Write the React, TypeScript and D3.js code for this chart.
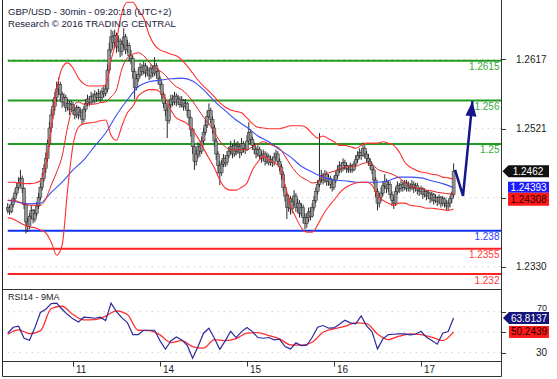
import React from 'react';
import * as d3 from 'd3';

const W = 557;
const H = 379;

const titleLines = ['GBP/USD - 30min - 09:20:18 (UTC+2)', 'Research \u00A9 2016 TRADING CENTRAL'];
const rsiTitle = 'RSI14 - 9MA';

const dayLabels = ['11', '14', '15', '16', '17'];
const dayStartBar = [36, 84, 132, 180, 228];

const firstOpen = 1.2408;
const closes = [
  1.2412,1.2406,1.2416,1.2424,1.2432,1.2440,1.2446,1.2452,1.2438,1.2416,
  1.2392,1.2386,1.2400,1.2408,1.2396,1.2404,1.2414,1.2426,1.2440,1.2452,
  1.2466,1.2480,1.2500,1.2522,1.2540,1.2552,1.2564,1.2576,1.2582,1.2568,
  1.2558,1.2564,1.2550,1.2556,1.2548,1.2554,1.2546,1.2540,1.2550,1.2540,
  1.2544,1.2534,1.2548,1.2556,1.2562,1.2558,1.2566,1.2560,1.2568,1.2564,
  1.2570,1.2564,1.2572,1.2570,1.2576,1.2602,1.2630,1.2648,1.2640,1.2650,
  1.2634,1.2642,1.2628,1.2638,1.2648,1.2630,1.2636,1.2622,1.2618,1.2600,
  1.2578,1.2590,1.2596,1.2606,1.2600,1.2608,1.2598,1.2602,1.2594,1.2604,
  1.2598,1.2608,1.2600,1.2590,1.2582,1.2568,1.2556,1.2546,1.2532,1.2554,
  1.2562,1.2558,1.2566,1.2558,1.2562,1.2554,1.2560,1.2552,1.2556,1.2546,
  1.2536,1.2520,1.2496,1.2476,1.2486,1.2496,1.2490,1.2504,1.2516,1.2526,
  1.2538,1.2546,1.2534,1.2522,1.2504,1.2486,1.2470,1.2460,1.2472,1.2480,
  1.2474,1.2484,1.2490,1.2496,1.2486,1.2498,1.2490,1.2496,1.2488,1.2500,
  1.2494,1.2492,1.2504,1.2516,1.2506,1.2498,1.2492,1.2486,1.2492,1.2484,
  1.2480,1.2486,1.2476,1.2482,1.2474,1.2478,1.2474,1.2482,1.2486,1.2476,
  1.2468,1.2458,1.2440,1.2428,1.2412,1.2424,1.2410,1.2420,1.2428,1.2412,
  1.2418,1.2404,1.2412,1.2398,1.2390,1.2398,1.2406,1.2400,1.2412,1.2422,
  1.2434,1.2444,1.2450,1.2456,1.2450,1.2458,1.2448,1.2452,1.2444,1.2440,
  1.2450,1.2456,1.2464,1.2470,1.2466,1.2474,1.2470,1.2466,1.2464,1.2470,
  1.2464,1.2472,1.2478,1.2484,1.2488,1.2484,1.2494,1.2486,1.2480,1.2476,
  1.2470,1.2464,1.2450,1.2434,1.2418,1.2426,1.2432,1.2442,1.2448,1.2438,
  1.2444,1.2430,1.2422,1.2418,1.2434,1.2442,1.2438,1.2444,1.2440,1.2446,
  1.2438,1.2442,1.2440,1.2444,1.2438,1.2442,1.2436,1.2434,1.2438,1.2430,
  1.2434,1.2428,1.2432,1.2424,1.2430,1.2422,1.2426,1.2420,1.2426,1.2418,
  1.2424,1.2418,1.2414,1.2418,1.2424,1.2430,1.2462,
];
const highs = [
  1.2418,1.2415,1.2420,1.2428,1.2438,1.2446,1.2454,1.2464,1.2456,1.2440,
  1.2418,1.2398,1.2404,1.2414,1.2410,1.2410,1.2420,1.2432,1.2446,1.2460,
  1.2472,1.2488,1.2506,1.2530,1.2548,1.2562,1.2572,1.2586,1.2592,1.2586,
  1.2572,1.2570,1.2568,1.2562,1.2560,1.2560,1.2558,1.2550,1.2554,1.2552,
  1.2550,1.2548,1.2552,1.2562,1.2568,1.2566,1.2572,1.2570,1.2574,1.2572,
  1.2576,1.2574,1.2578,1.2580,1.2582,1.2610,1.2640,1.2658,1.2656,1.2658,
  1.2654,1.2650,1.2646,1.2644,1.2660,1.2652,1.2644,1.2640,1.2630,1.2622,
  1.2604,1.2596,1.2604,1.2612,1.2610,1.2614,1.2612,1.2608,1.2606,1.2610,
  1.2608,1.2620,1.2612,1.2604,1.2594,1.2586,1.2572,1.2560,1.2550,1.2560,
  1.2568,1.2568,1.2572,1.2570,1.2568,1.2566,1.2566,1.2562,1.2562,1.2558,
  1.2548,1.2538,1.2522,1.2498,1.2492,1.2502,1.2500,1.2510,1.2522,1.2534,
  1.2546,1.2556,1.2550,1.2538,1.2526,1.2508,1.2490,1.2476,1.2478,1.2486,
  1.2484,1.2490,1.2496,1.2504,1.2500,1.2506,1.2502,1.2504,1.2500,1.2508,
  1.2504,1.2500,1.2512,1.2530,1.2520,1.2510,1.2502,1.2496,1.2498,1.2496,
  1.2490,1.2492,1.2490,1.2488,1.2486,1.2484,1.2482,1.2488,1.2492,1.2490,
  1.2480,1.2472,1.2462,1.2444,1.2432,1.2430,1.2428,1.2426,1.2436,1.2432,
  1.2424,1.2422,1.2418,1.2416,1.2404,1.2404,1.2412,1.2412,1.2418,1.2428,
  1.2440,1.2450,1.2515,1.2464,1.2460,1.2464,1.2462,1.2458,1.2456,1.2450,
  1.2456,1.2462,1.2470,1.2476,1.2474,1.2480,1.2478,1.2474,1.2470,1.2474,
  1.2472,1.2476,1.2484,1.2490,1.2494,1.2492,1.2502,1.2498,1.2490,1.2486,
  1.2480,1.2474,1.2468,1.2454,1.2438,1.2432,1.2440,1.2448,1.2458,1.2452,
  1.2450,1.2448,1.2434,1.2428,1.2440,1.2448,1.2446,1.2450,1.2448,1.2450,
  1.2450,1.2448,1.2446,1.2450,1.2448,1.2446,1.2446,1.2440,1.2442,1.2440,
  1.2438,1.2436,1.2436,1.2434,1.2434,1.2432,1.2430,1.2428,1.2430,1.2428,
  1.2428,1.2426,1.2422,1.2422,1.2428,1.2434,1.2473,
];
const lows = [
  1.2404,1.2402,1.2404,1.2412,1.2420,1.2428,1.2436,1.2442,1.2432,1.2410,
  1.2376,1.2378,1.2382,1.2396,1.2390,1.2392,1.2400,1.2410,1.2422,1.2436,
  1.2448,1.2460,1.2476,1.2496,1.2516,1.2534,1.2546,1.2558,1.2568,1.2560,
  1.2550,1.2552,1.2544,1.2546,1.2540,1.2544,1.2540,1.2534,1.2536,1.2534,
  1.2536,1.2526,1.2530,1.2544,1.2552,1.2552,1.2554,1.2556,1.2556,1.2558,
  1.2560,1.2558,1.2560,1.2564,1.2566,1.2572,1.2598,1.2626,1.2632,1.2634,
  1.2626,1.2628,1.2620,1.2622,1.2632,1.2624,1.2626,1.2614,1.2610,1.2590,
  1.2562,1.2574,1.2586,1.2592,1.2594,1.2596,1.2592,1.2594,1.2588,1.2590,
  1.2592,1.2594,1.2592,1.2582,1.2576,1.2562,1.2550,1.2538,1.2508,1.2528,
  1.2550,1.2552,1.2554,1.2552,1.2554,1.2550,1.2550,1.2546,1.2548,1.2538,
  1.2526,1.2510,1.2486,1.2464,1.2470,1.2480,1.2482,1.2486,1.2500,1.2512,
  1.2522,1.2536,1.2528,1.2514,1.2496,1.2478,1.2458,1.2443,1.2456,1.2468,
  1.2468,1.2470,1.2480,1.2486,1.2480,1.2482,1.2484,1.2486,1.2480,1.2484,
  1.2488,1.2486,1.2490,1.2500,1.2500,1.2492,1.2486,1.2480,1.2482,1.2478,
  1.2474,1.2476,1.2470,1.2472,1.2470,1.2470,1.2468,1.2470,1.2478,1.2470,
  1.2462,1.2450,1.2434,1.2420,1.2396,1.2406,1.2402,1.2404,1.2414,1.2406,
  1.2404,1.2398,1.2400,1.2390,1.2382,1.2384,1.2392,1.2394,1.2398,1.2408,
  1.2418,1.2430,1.2440,1.2446,1.2444,1.2446,1.2442,1.2442,1.2438,1.2434,
  1.2436,1.2446,1.2452,1.2460,1.2460,1.2462,1.2464,1.2460,1.2460,1.2460,
  1.2460,1.2462,1.2468,1.2474,1.2480,1.2478,1.2482,1.2480,1.2474,1.2470,
  1.2464,1.2458,1.2444,1.2426,1.2408,1.2412,1.2420,1.2428,1.2438,1.2432,
  1.2434,1.2424,1.2414,1.2410,1.2414,1.2430,1.2432,1.2434,1.2434,1.2436,
  1.2434,1.2434,1.2434,1.2436,1.2432,1.2434,1.2430,1.2428,1.2430,1.2424,
  1.2426,1.2422,1.2424,1.2418,1.2420,1.2416,1.2418,1.2414,1.2416,1.2412,
  1.2414,1.2412,1.2408,1.2408,1.2412,1.2418,1.2426,
];

// Bollinger bands, one value every 3 bars
const bandStep = 3;
const bbUpper = [
  1.2447,1.2447,1.2446,1.2445,1.2445,1.2446,1.2449,1.2471,1.2522,1.2575,
  1.2605,1.2612,1.2605,1.2591,1.2583,1.2580,1.2580,1.2580,1.2581,1.2616,
  1.2644,1.2682,1.2696,1.2696,1.2685,1.2674,1.2651,1.2637,1.2630,1.2627,
  1.2624,1.2622,1.2616,1.2608,1.2598,1.2588,1.2580,1.2573,1.2565,1.2557,
  1.2551,1.2547,1.2545,1.2543,1.2536,1.2528,1.2523,1.2522,1.2521,1.2521,
  1.2521,1.2523,1.2525,1.2525,1.2525,1.2522,1.2514,1.2508,1.2511,1.2507,
  1.2503,1.2498,1.2498,1.2496,1.2494,1.2498,1.2501,1.2501,1.2501,1.2503,
  1.2501,1.2498,1.2489,1.2475,1.2468,1.2464,1.2461,1.2460,1.2458,1.2457,
  1.2454,1.2453,1.2451,
];
const bbMiddle = [
  1.2422,1.2422,1.2420,1.2417,1.2415,1.2415,1.2415,1.2424,1.2443,1.2461,
  1.2483,1.2523,1.2551,1.2558,1.2555,1.2555,1.2555,1.2557,1.2558,1.2565,
  1.2575,1.2604,1.2619,1.2624,1.2626,1.2622,1.2613,1.2606,1.2601,1.2595,
  1.2586,1.2579,1.2575,1.2568,1.2559,1.2548,1.2537,1.2528,1.2516,1.2504,
  1.2496,1.2492,1.2492,1.2492,1.2492,1.2496,1.2500,1.2503,1.2500,1.2497,
  1.2494,1.2483,1.2471,1.2461,1.2454,1.2450,1.2446,1.2447,1.2456,1.2460,
  1.2462,1.2465,1.2468,1.2469,1.2469,1.2472,1.2474,1.2472,1.2465,1.2462,
  1.2460,1.2457,1.2453,1.2447,1.2442,1.2439,1.2438,1.2436,1.2435,1.2433,
  1.2432,1.2431,1.24308,
];
const bbLower = [
  1.2398,1.2396,1.2392,1.2388,1.2385,1.2384,1.2381,1.2377,1.2364,1.2346,
  1.2360,1.2436,1.2498,1.2523,1.2528,1.2529,1.2530,1.2532,1.2533,1.2512,
  1.2505,1.2525,1.2543,1.2552,1.2566,1.2572,1.2575,1.2575,1.2572,1.2563,
  1.2547,1.2536,1.2532,1.2528,1.2519,1.2508,1.2494,1.2480,1.2467,1.2450,
  1.2439,1.2436,1.2436,1.2440,1.2446,1.2464,1.2475,1.2483,1.2478,1.2474,
  1.2468,1.2443,1.2415,1.2398,1.2384,1.2378,1.2378,1.2388,1.2402,1.2413,
  1.2422,1.2432,1.2439,1.2443,1.2446,1.2447,1.2447,1.2443,1.2429,1.2422,
  1.2418,1.2415,1.2418,1.2418,1.2415,1.2414,1.2413,1.2411,1.2411,1.2410,
  1.2409,1.2408,1.2410,
];

// blue moving average, one value every 6 bars
const smaStep = 6;
const sma = [
  1.2422,1.2419,1.2417,1.2418,1.2433,1.2447,1.2464,1.2478,1.2497,1.2515,
  1.2540,1.2561,1.2579,1.2586,1.2588,1.2590,1.2591,1.2587,1.2575,1.2559,
  1.2546,1.2533,1.2523,1.2511,1.2503,1.2492,1.2482,1.2469,1.2461,1.2454,
  1.2450,1.2449,1.2447,1.2447,1.2447,1.2449,1.2454,1.2454,1.2453,1.2449,
  1.2445,1.24393,
];

// RSI(14) every 3 bars, its 9MA every 6 bars
const rsiStep = 3;
const rsi = [
  49.0,54.8,55.8,44.1,42.2,54.5,69.2,72.4,77.9,78.3,
  72.4,67.2,63.0,60.0,64.6,64.3,63.6,64.6,61.3,78.3,
  70.1,64.0,59.4,47.7,47.7,51.9,51.9,51.9,41.8,33.4,
  41.5,45.4,42.5,37.3,24.6,36.0,49.0,53.9,44.1,33.4,
  41.5,50.9,44.8,50.6,54.5,50.6,44.8,44.1,44.8,42.5,
  43.1,36.0,33.7,39.6,37.0,37.3,45.1,54.8,56.5,53.9,
  54.2,57.8,61.7,59.1,58.1,65.9,56.1,50.3,33.7,43.5,
  47.7,48.0,48.3,48.3,47.4,48.0,50.9,45.1,41.8,38.3,
  49.0,50.6,63.8137,
];
const rsiMaStep = 6;
const rsiMa = [
  48.0,52.2,48.7,51.3,73.1,75.3,67.2,62.0,62.3,65.6,
  70.8,67.2,51.9,51.6,47.4,39.9,41.8,36.0,34.4,42.8,
  41.8,43.8,49.0,49.6,46.7,43.5,37.6,37.3,40.2,50.0,
  53.2,55.8,59.1,58.4,48.3,42.8,46.1,48.3,47.7,45.1,
  41.8,50.2439,
];

const levelValues = [1.2615, 1.256, 1.25, 1.238, 1.2355, 1.232];
const levelLabels = ['1.2615', '1.256', '1.25', '1.238', '1.2355', '1.232'];
const levelKinds = ['res', 'res', 'res', 'pivot', 'sup', 'sup'];

const priceTicks = [1.233, 1.24255, 1.2521, 1.2617];
const priceTickLabels = ['1.2330', '', '1.2521', '1.2617'];
const rsiTicks = [30, 50, 70];
const rsiTickLabels = ['30', '', '70'];

const lastClose = 1.2462;
const lastSma = 1.24393;
const lastMiddle = 1.24308;
const lastRsi = 63.8137;
const lastRsiMa = 50.2439;

const projBars = [246.8, 251.2, 256.4];
const projPrices = [1.2464, 1.2428, 1.2559];

const FONT = '"Liberation Sans", Arial, sans-serif';
const levelLine: Record<string, string> = { res: '#1f9b1f', pivot: '#1032f0', sup: '#ff2222' };
const levelText: Record<string, string> = { res: '#3aac3a', pivot: '#2b40ff', sup: '#ff3838' };

export default function App() {
  const L = 3;
  const R = 501;
  const MAIN_B = 289.5;
  const RSI_B = 361.5;
  const OUT_B = 376.5;

  const x = d3.scaleLinear().domain([0, 246]).range([7.75, 453.6]);
  const yP = d3.scaleLinear().domain([1.2521, 1.2617]).range([128.7, 59.3]);
  const yR = d3.scaleLinear().domain([30, 70]).range([352.7, 311.7]);

  const candles = closes.map((c, i) => {
    const o = i === 0 ? firstOpen : closes[i - 1];
    return { i, o, c, h: Math.max(highs[i], o, c), l: Math.min(lows[i], o, c) };
  });

  const pLine = (step: number) =>
    d3.line<number>().x((_, k) => x(k * step)).y((v) => yP(v)).curve(d3.curveMonotoneX);
  const rLine = (step: number, curve: d3.CurveFactory) =>
    d3.line<number>().x((_, k) => x(k * step)).y((v) => yR(v)).curve(curve);

  const projLine = d3
    .line<number>()
    .x((_, k) => x(projBars[k]))
    .y((v) => yP(v));

  // arrow head at the end of the projection
  const n = projBars.length;
  const tipX = x(projBars[n - 1]);
  const tipY = yP(projPrices[n - 1]);
  const prevX = x(projBars[n - 2]);
  const prevY = yP(projPrices[n - 2]);
  const len = Math.hypot(tipX - prevX, tipY - prevY);
  const ux = (tipX - prevX) / len;
  const uy = (tipY - prevY) / len;
  const bx = tipX - ux * 15;
  const by = tipY - uy * 15;
  const px = -uy;
  const py = ux;
  const head = `M${tipX},${tipY}L${bx + px * 5.5},${by + py * 5.5}L${bx - px * 5.5},${by - py * 5.5}Z`;

  const cyClose = yP(lastClose);
  const smaTop = yP(lastSma) - 6;
  const midTop = Math.max(yP(lastMiddle) - 6, smaTop + 11);
  const cyRsi = yR(lastRsi);
  const rsiMaTop = Math.max(yR(lastRsiMa) - 6, cyRsi + 6.5);

  return (
    <svg
      width={W}
      height={H}
      style={{ position: 'absolute', left: 0, top: 0, background: '#fff' }}
      fontFamily={FONT}
    >
      <defs>
        <clipPath id="mainClip">
          <rect x={L} y={0} width={R - L} height={MAIN_B} />
        </clipPath>
        <clipPath id="rsiClip">
          <rect x={L} y={MAIN_B} width={R - L} height={RSI_B - MAIN_B} />
        </clipPath>
      </defs>
      <rect x={0} y={0} width={W} height={H} fill="#fff" />

      {/* grid */}
      {priceTicks.map((p, k) => (
        <line key={'pg' + k} x1={x(0)} x2={R} y1={yP(p)} y2={yP(p)} stroke="#b8b8b8" strokeDasharray="1,5" />
      ))}
      {rsiTicks.map((v, k) => (
        <line key={'rg' + k} x1={x(0)} x2={R} y1={yR(v)} y2={yR(v)} stroke="#b8b8b8" strokeDasharray="1,5" />
      ))}

      {/* levels */}
      <g clipPath="url(#mainClip)">
        {levelValues.map((v, k) => (
          <line key={'lv' + k} x1={x(0)} x2={R} y1={yP(v)} y2={yP(v)} stroke={levelLine[levelKinds[k]]} strokeWidth={2} />
        ))}
      </g>

      {/* candles */}
      <g clipPath="url(#mainClip)">
        {candles.map((d) => {
          const cx = x(d.i);
          const top = yP(Math.max(d.o, d.c));
          const bh = Math.max(1.2, Math.abs(yP(d.o) - yP(d.c)));
          return (
            <g key={'c' + d.i}>
              <line x1={cx} x2={cx} y1={yP(d.h)} y2={yP(d.l)} stroke="#2a2a2a" strokeWidth={1} />
              <rect x={cx - 1.5} y={top} width={3} height={bh} fill="#939393" stroke="#2c2c2c" strokeWidth={0.5} />
            </g>
          );
        })}
      </g>

      {/* indicators */}
      <g clipPath="url(#mainClip)" fill="none">
        <path d={pLine(smaStep)(sma) || ''} stroke="#3d4ef2" strokeWidth={1.1} />
        <path d={pLine(bandStep)(bbUpper) || ''} stroke="#ff3030" strokeWidth={1.1} />
        <path d={pLine(bandStep)(bbLower) || ''} stroke="#ff3030" strokeWidth={1.1} />
        <path d={pLine(bandStep)(bbMiddle) || ''} stroke="#e62020" strokeWidth={1} />
      </g>

      {/* projection */}
      <path d={projLine(projPrices) || ''} fill="none" stroke="#15158c" strokeWidth={2.5} />
      <path d={head} fill="#15158c" />

      {/* level labels */}
      {levelValues.map((v, k) => (
        <text key={'ll' + k} x={R - 1.5} y={yP(v) + 9.5} fontSize={10} textAnchor="end" fill={levelText[levelKinds[k]]}>
          {levelLabels[k]}
        </text>
      ))}

      {/* RSI */}
      <g clipPath="url(#rsiClip)" fill="none">
        <path d={rLine(rsiMaStep, d3.curveMonotoneX)(rsiMa) || ''} stroke="#ff2e2e" strokeWidth={1.3} />
        <path d={rLine(rsiStep, d3.curveLinear)(rsi) || ''} stroke="#2b2b9c" strokeWidth={1.2} />
      </g>

      {/* frame */}
      <line x1={2.5} x2={2.5} y1={0} y2={OUT_B} stroke="#222" />
      <line x1={R + 0.5} x2={R + 0.5} y1={0} y2={OUT_B} stroke="#333" />
      <line x1={2.5} x2={R + 0.5} y1={MAIN_B} y2={MAIN_B} stroke="#333" />
      <line x1={2.5} x2={R + 0.5} y1={RSI_B} y2={RSI_B} stroke="#333" />
      <line x1={2.5} x2={R + 0.5} y1={OUT_B} y2={OUT_B} stroke="#333" />

      {/* x axis */}
      {dayStartBar.map((b, k) => (
        <g key={'d' + k}>
          <line x1={Math.round(x(b)) + 0.5} x2={Math.round(x(b)) + 0.5} y1={RSI_B} y2={RSI_B + 5} stroke="#333" />
          <text x={x(b) + 3} y={373} fontSize={10} fill="#222">
            {dayLabels[k]}
          </text>
        </g>
      ))}

      {/* right axes */}
      {priceTicks.map((p, k) => (
        <g key={'pt' + k}>
          <line x1={R} x2={R + 5} y1={Math.round(yP(p)) + 0.5} y2={Math.round(yP(p)) + 0.5} stroke="#333" />
          {priceTickLabels[k] && (
            <text x={516} y={yP(p) + 3.6} fontSize={10} fill="#222">
              {priceTickLabels[k]}
            </text>
          )}
        </g>
      ))}
      {rsiTicks.map((v, k) => (
        <g key={'rt' + k}>
          <line x1={R} x2={R + 5} y1={Math.round(yR(v)) + 0.5} y2={Math.round(yR(v)) + 0.5} stroke="#333" />
          {rsiTickLabels[k] && (
            <text x={547} y={v === 70 ? yR(v) - 0.8 : yR(v) + 3.6} fontSize={v === 70 ? 9 : 10} textAnchor="end" fill="#222">
              {rsiTickLabels[k]}
            </text>
          )}
        </g>
      ))}

      {/* value boxes */}
      <path
        d={`M${R + 1.5},${cyClose}L${R + 7.5},${cyClose - 6}L549,${cyClose - 6}L549,${cyClose + 6}L${R + 7.5},${cyClose + 6}Z`}
        fill="#111"
      />
      <text x={528} y={cyClose + 3.6} fontSize={10} textAnchor="middle" fill="#fff">
        {lastClose.toFixed(4)}
      </text>
      <rect x={508} y={smaTop} width={41} height={11} fill="#1c1cff" />
      <text x={528.5} y={smaTop + 9} fontSize={10} textAnchor="middle" fill="#fff">
        {lastSma.toFixed(5)}
      </text>
      <rect x={508} y={midTop} width={41} height={13} fill="#ff1a1a" />
      <text x={528.5} y={midTop + 10} fontSize={10} textAnchor="middle" fill="#2a0000">
        {lastMiddle.toFixed(5)}
      </text>

      <path
        d={`M${R + 2},${cyRsi}L${R + 8},${cyRsi - 6}L549,${cyRsi - 6}L549,${cyRsi + 6}L${R + 8},${cyRsi + 6}Z`}
        fill="#14147a"
      />
      <text x={529} y={cyRsi + 3.6} fontSize={10} textAnchor="middle" fill="#fff">
        {lastRsi.toFixed(4)}
      </text>
      <rect x={509} y={rsiMaTop} width={40} height={12} fill="#ff1a1a" />
      <text x={529} y={rsiMaTop + 9.3} fontSize={10} textAnchor="middle" fill="#2a0000">
        {lastRsiMa.toFixed(4)}
      </text>

      {/* titles */}
      <text x={8} y={14.5} fontSize={9.6} fill="#22223a">
        {titleLines[0]}
      </text>
      <text x={8} y={26.5} fontSize={9.6} fill="#22223a">
        {titleLines[1]}
      </text>
      <text x={8} y={300} fontSize={9} fill="#222">
        {rsiTitle}
      </text>
    </svg>
  );
}
